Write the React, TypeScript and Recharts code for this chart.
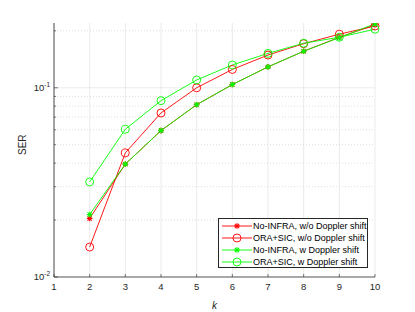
import React from 'react';
import { LineChart, Line, XAxis, YAxis, CartesianGrid, ReferenceLine } from 'recharts';

const kValues = [2, 3, 4, 5, 6, 7, 8, 9, 10];
const noInfraWo = [0.0204, 0.0395, 0.0594, 0.0814, 0.104, 0.129, 0.156, 0.185, 0.215];
const oraSicWo = [0.0144, 0.0453, 0.0736, 0.1, 0.125, 0.149, 0.171, 0.192, 0.212];
const noInfraW = [0.0214, 0.0395, 0.0594, 0.0814, 0.104, 0.129, 0.156, 0.184, 0.218];
const oraSicW = [0.0318, 0.0604, 0.0855, 0.11, 0.132, 0.152, 0.172, 0.185, 0.204];

const xTicks = [1, 2, 3, 4, 5, 6, 7, 8, 9, 10];
const majorY = [0.01, 0.1];
const minorY = [0.02, 0.03, 0.04, 0.05, 0.06, 0.07, 0.08, 0.09, 0.2];

const RED = '#ff0000';
const GREEN = '#00ff00';
const AXIS = '#262626';
const FONT = '"Liberation Sans", Arial, sans-serif';

const data = kValues.map((k, i) => ({
  k,
  a: noInfraWo[i],
  b: oraSicWo[i],
  c: noInfraW[i],
  d: oraSicW[i],
}));

const series = [
  { key: 'a', name: 'No-INFRA, w/o Doppler shift', color: RED, marker: 'star' },
  { key: 'b', name: 'ORA+SIC, w/o Doppler shift', color: RED, marker: 'circle' },
  { key: 'c', name: 'No-INFRA, w Doppler shift', color: GREEN, marker: 'star' },
  { key: 'd', name: 'ORA+SIC, w Doppler shift', color: GREEN, marker: 'circle' },
];

const Marker = ({ cx, cy, color, type }: any) => {
  if (cx == null || cy == null) return null;
  if (type === 'circle') {
    return <circle cx={cx} cy={cy} r={4} fill="none" stroke={color} strokeWidth={0.9} />;
  }
  const s = 2.8;
  return (
    <g stroke={color} strokeWidth={1.1}>
      <line x1={cx - s} y1={cy} x2={cx + s} y2={cy} />
      <line x1={cx} y1={cy - s} x2={cx} y2={cy + s} />
      <line x1={cx - s * 0.75} y1={cy - s * 0.75} x2={cx + s * 0.75} y2={cy + s * 0.75} />
      <line x1={cx - s * 0.75} y1={cy + s * 0.75} x2={cx + s * 0.75} y2={cy - s * 0.75} />
    </g>
  );
};

const XTick = ({ x, y, payload }: any) => (
  <g>
    <line x1={x} y1={y - 6} x2={x} y2={y - 9} stroke={AXIS} strokeWidth={0.6} />
    <text x={x} y={y} dy="0.71em" textAnchor="middle" fontSize={9.5} fill={AXIS} fontFamily={FONT}>
      {payload.value}
    </text>
  </g>
);

const YTick = ({ x, y, payload }: any) => {
  const major = majorY.some((m) => Math.abs(m - payload.value) < 1e-9);
  const exp = Math.round(Math.log10(payload.value));
  return (
    <g>
      <line x1={x + 4} y1={y} x2={x + (major ? 8 : 6)} y2={y} stroke={AXIS} strokeWidth={0.6} />
      {major && (
        <text x={x} y={y} dy="0.35em" textAnchor="end" fontSize={9.5} fill={AXIS} fontFamily={FONT}>
          10
          <tspan dy="-0.6em" fontSize={6.5}>{exp}</tspan>
        </text>
      )}
    </g>
  );
};

const YTickRight = ({ x, y, payload }: any) => {
  const major = majorY.some((m) => Math.abs(m - payload.value) < 1e-9);
  return <line x1={x} y1={y} x2={x - (major ? 4 : 2)} y2={y} stroke={AXIS} strokeWidth={0.6} />;
};

const LegendBox = () => (
  <div
    style={{
      position: 'absolute',
      left: 218,
      top: 218,
      width: 150,
      height: 50,
      boxSizing: 'border-box',
      border: `0.8px solid ${AXIS}`,
      background: '#fff',
      padding: '1px 0 0 3px',
      fontFamily: FONT,
      fontSize: 9,
      color: '#000',
    }}
  >
    {series.map((s) => (
      <div key={s.key} style={{ display: 'flex', alignItems: 'center', whiteSpace: 'nowrap', height: 12 }}>
        <svg width={30} height={12} style={{ marginRight: 1, flex: 'none' }}>
          <line x1={0} y1={6} x2={30} y2={6} stroke={s.color} strokeWidth={0.9} />
          <Marker cx={15} cy={6} color={s.color} type={s.marker} />
        </svg>
        <span style={{ lineHeight: '12px' }}>{s.name}</span>
      </div>
    ))}
  </div>
);

export default function App() {
  return (
    <div style={{ position: 'fixed', left: 0, top: 0, width: 415, height: 312, background: '#fff' }}>
      <LineChart width={415} height={312} data={data} margin={{ top: 23, right: 40, left: 24, bottom: 15 }}>
        <CartesianGrid vertical={true} horizontal={false} stroke="#e3e3e3" strokeWidth={0.7} verticalValues={xTicks} />
        {minorY.map((v) => (
          <ReferenceLine key={v} y={v} stroke="#d0d0d0" strokeWidth={0.7} strokeDasharray="1 2" />
        ))}
        <ReferenceLine y={0.1} stroke="#e3e3e3" strokeWidth={0.7} />
        <XAxis
          dataKey="k"
          type="number"
          domain={[1, 10]}
          ticks={xTicks}
          interval={0}
          height={20}
          tickSize={0}
          tickMargin={6}
          tick={<XTick />}
          axisLine={{ stroke: AXIS, strokeWidth: 0.8 }}
          label={{ value: 'k', position: 'insideBottom', offset: -12, fontSize: 10, fontStyle: 'italic', fill: AXIS, fontFamily: FONT }}
        />
        <XAxis
          xAxisId="top"
          orientation="top"
          dataKey="k"
          type="number"
          domain={[1, 10]}
          ticks={xTicks}
          height={0}
          tick={false}
          tickLine={false}
          axisLine={{ stroke: AXIS, strokeWidth: 0.8 }}
        />
        <YAxis
          scale="log"
          domain={[0.01, 0.22]}
          allowDataOverflow
          ticks={[...majorY, ...minorY]}
          interval={0}
          width={30}
          tickSize={0}
          tickMargin={4}
          tick={<YTick />}
          axisLine={{ stroke: AXIS, strokeWidth: 0.8 }}
          label={{ value: 'SER', angle: -90, position: 'insideLeft', offset: -2, dy: 5, fontSize: 10, fill: AXIS, fontFamily: FONT }}
        />
        <YAxis
          yAxisId="right"
          orientation="right"
          scale="log"
          domain={[0.01, 0.22]}
          allowDataOverflow
          ticks={[...majorY, ...minorY]}
          interval={0}
          width={0}
          tickSize={0}
          tickMargin={0}
          tick={<YTickRight />}
          axisLine={{ stroke: AXIS, strokeWidth: 0.8 }}
        />
        {series.map((s) => (
          <Line
            key={s.key}
            dataKey={s.key}
            name={s.name}
            stroke={s.color}
            strokeWidth={0.9}
            isAnimationActive={false}
            dot={(p: any) => <Marker key={`${s.key}-${p.index}`} cx={p.cx} cy={p.cy} color={s.color} type={s.marker} />}
            activeDot={false}
          />
        ))}
      </LineChart>
      <LegendBox />
    </div>
  );
}
